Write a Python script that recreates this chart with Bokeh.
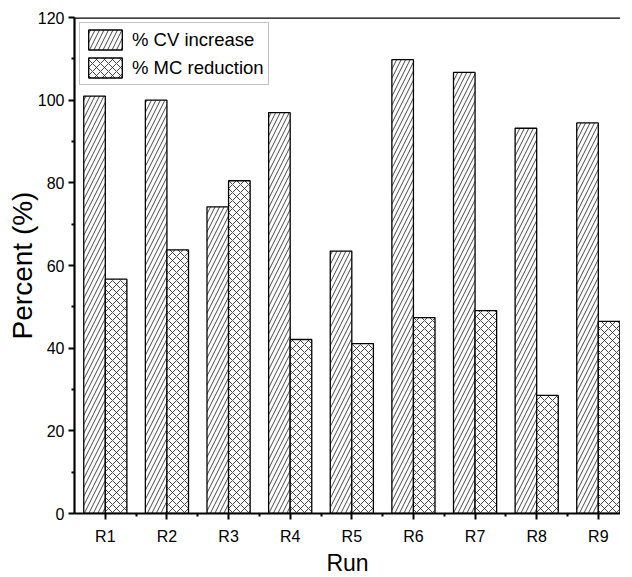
from bokeh.plotting import figure
from bokeh.models import Range1d, FixedTicker, Span, Legend, LegendItem, ColumnDataSource
from bokeh.embed import file_html
from bokeh.resources import INLINE

runs = ["R1", "R2", "R3", "R4", "R5", "R6", "R7", "R8", "R9"]
cv_increase = [101, 100, 74.2, 97, 63.5, 109.8, 106.7, 93.2, 94.5]
mc_reduction = [56.7, 63.8, 80.5, 42.1, 41.1, 47.4, 49.1, 28.6, 46.5]
y_ticks = [0, 20, 40, 60, 80, 100, 120]

pos = list(range(1, len(runs) + 1))
bw = 0.35
src = ColumnDataSource(dict(
    x=pos,
    x_cv=[p_ - bw / 2 for p_ in pos],
    x_mc=[p_ + bw / 2 for p_ in pos],
    cv=cv_increase,
    mc=mc_reduction,
))

FONT = "Liberation Sans"

p = figure(frame_width=546, frame_height=496, output_backend="svg", toolbar_location=None,
           x_range=Range1d(0.5, 9.36), y_range=Range1d(0, 120),
           min_border_left=74, min_border_right=0, min_border_top=17, min_border_bottom=10)
p.outline_line_color = None
p.xgrid.visible = False
p.ygrid.visible = False

r_cv = p.vbar(x="x_cv", top="cv", width=bw, source=src, fill_color="white",
              line_color="black", line_width=1.3, hatch_pattern="/", hatch_scale=9,
              hatch_weight=0.9, hatch_color="#333333")
r_mc = p.vbar(x="x_mc", top="mc", width=bw, source=src, fill_color="white",
              line_color="black", line_width=1.3, hatch_pattern="x", hatch_scale=8,
              hatch_weight=0.9, hatch_color="#333333")

p.add_layout(Span(location=120, dimension="width", line_color="black", line_width=2.5))

p.xaxis.ticker = FixedTicker(ticks=pos, minor_ticks=[v + 0.5 for v in pos])
p.xaxis.major_label_overrides = {v: r for v, r in zip(pos, runs)}
p.yaxis.ticker = FixedTicker(ticks=y_ticks, minor_ticks=[v + 10 for v in y_ticks[:-1]])

for ax in (p.xaxis[0], p.yaxis[0]):
    ax.axis_line_width = 2.2
    ax.axis_line_color = "black"
    ax.major_tick_line_width = 2
    ax.minor_tick_line_width = 2
    ax.major_tick_in = 0
    ax.major_tick_out = 6
    ax.minor_tick_in = 0
    ax.minor_tick_out = 3
    ax.major_label_text_font = FONT
    ax.major_label_text_font_size = "16px"
    ax.major_label_text_color = "black"
    ax.axis_label_text_font = FONT
    ax.axis_label_text_font_style = "normal"
    ax.axis_label_text_color = "black"

p.xaxis.axis_label = "Run"
p.yaxis.axis_label = "Percent (%)"
p.xaxis.axis_label_text_font_size = "23px"
p.yaxis.axis_label_text_font_size = "28px"
p.xaxis.major_label_standoff = 8
p.xaxis.axis_label_standoff = 2
p.yaxis.major_label_standoff = 4
p.yaxis.axis_label_standoff = -3

legend = Legend(items=[LegendItem(label="% CV increase", renderers=[r_cv]),
                       LegendItem(label="% MC reduction", renderers=[r_mc])],
                location="top_left")
legend.margin = 5
legend.padding = 4
legend.spacing = 3
legend.glyph_width = 42
legend.glyph_height = 25
legend.label_standoff = 6
legend.label_text_font = FONT
legend.label_text_font_size = "18.5px"
legend.label_text_color = "black"
legend.border_line_color = "#888888"
legend.border_line_width = 1
legend.background_fill_alpha = 1
p.add_layout(legend)

open("out.html", "w").write(file_html(p, INLINE))
